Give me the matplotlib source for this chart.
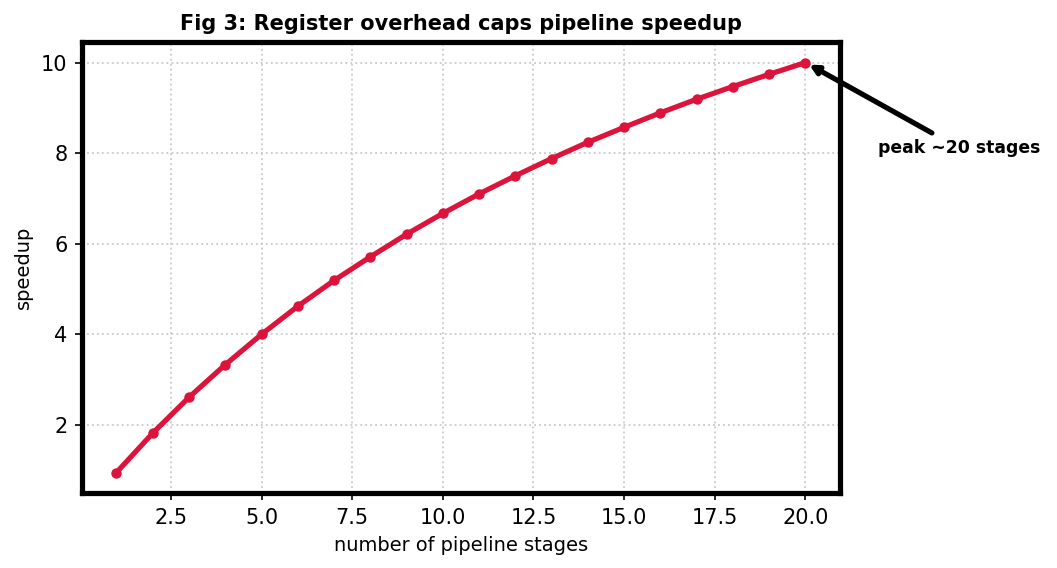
import numpy as np
import matplotlib
matplotlib.use('Agg')
import matplotlib.pyplot as plt

# speedup, stages 1..20
stages = [1, 2, 3, 4, 5, 6, 7, 8, 9, 10, 11, 12, 13, 14, 15, 16, 17, 18, 19, 20]
speedup = [0.95, 1.82, 2.61, 3.33, 4.00, 4.62, 5.19, 5.71, 6.21, 6.67,
           7.10, 7.50, 7.88, 8.24, 8.57, 8.89, 9.19, 9.47, 9.74, 10.00]

fig = plt.figure(figsize=(1057/150, 568/150), dpi=150)
ax = fig.add_axes([0.0776, 0.132, 0.717, 0.794])

ax.plot(stages, speedup, color='#DC143C', lw=2.5, marker='o', ms=4)
ax.grid(True, ls=':', color='#cccccc', lw=0.9)
for s in ax.spines.values():
    s.set_linewidth(2.5)

ax.set_title('Fig 3: Register overhead caps pipeline speedup', fontweight='bold', fontsize=10)
ax.set_xlabel('number of pipeline stages', fontsize=9.3)
ax.set_ylabel('speedup', fontsize=9.3)
ax.tick_params(labelsize=10)

ax.annotate('peak ~20 stages', xy=(stages[-1], speedup[-1]), xytext=(22, 8),
            fontsize=8.3, fontweight='bold',
            arrowprops=dict(arrowstyle='-|>', color='black', lw=2.5),
            annotation_clip=False)

fig.savefig('out.png', dpi=150)
